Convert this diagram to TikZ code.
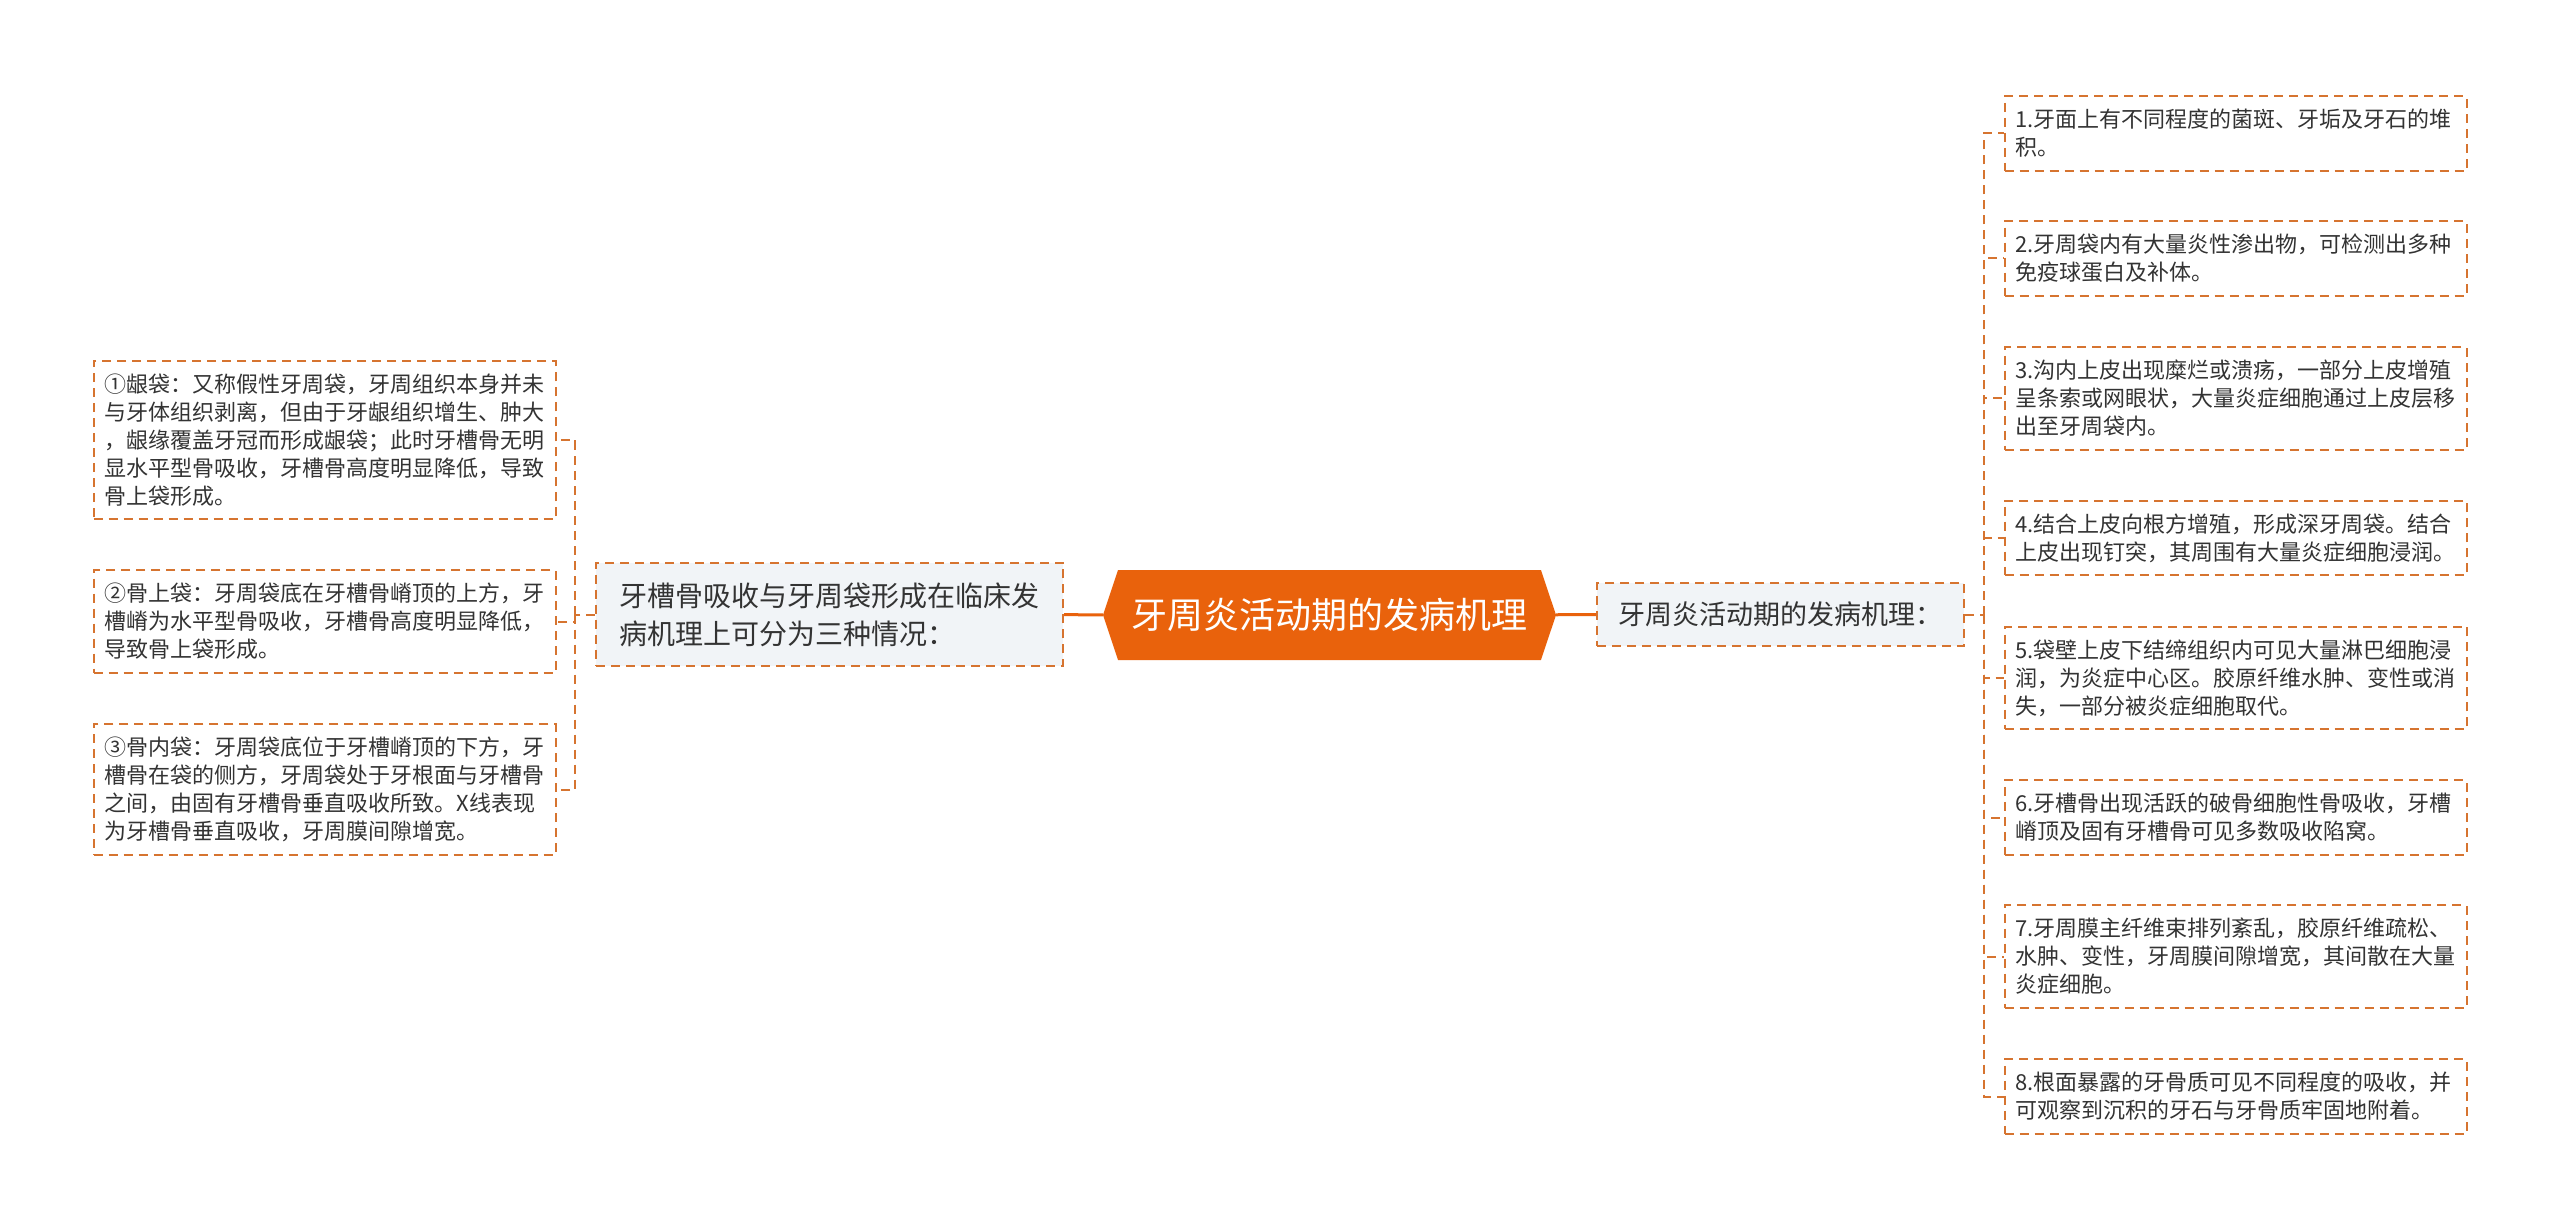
\documentclass[tikz,border=0pt]{standalone}
\usepackage{fontspec}
\setmainfont{Noto Sans CJK SC}
\usetikzlibrary{shapes.symbols}
\definecolor{lineorange}{RGB}{214,116,48}
\definecolor{rootorange}{RGB}{233,98,12}
\definecolor{midfill}{RGB}{241,244,247}
\definecolor{textgray}{RGB}{51,51,51}
\begin{document}
\begin{tikzpicture}[x=1pt,y=-1pt,
  leafbox/.style={draw=lineorange, line width=2pt, dash pattern=on 9pt off 6pt,
    fill=white, text=textgray, align=left, text width=440pt,
    inner xsep=11pt, inner ysep=13pt, font=\fontsize{22pt}{28pt}\selectfont},
  midbox/.style={draw=lineorange, line width=2pt, dash pattern=on 9pt off 6pt,
    fill=midfill, text=textgray, align=left},
  rootbox/.style={signal, signal to=west and east, signal pointer angle=143,
    fill=rootorange, text=white, minimum width=453pt, minimum height=90pt,
    inner xsep=0pt, font=\fontsize{36pt}{40pt}\selectfont},
  bus/.style={draw=lineorange, line width=2pt, dash pattern=on 9pt off 6pt},
  link/.style={draw=rootorange, line width=3pt}]
\fill[white] (0,0) rectangle (2560,1230);
\useasboundingbox (0,0) rectangle (2560,1230);

% root and the two branches
\node[rootbox] (root) at (1329.5,615) {牙周炎活动期的发病机理};
\node[midbox, text width=420pt, inner xsep=23.5pt, inner ysep=20pt,
  font=\fontsize{28pt}{38pt}\selectfont] (mL) at (829.5,614.5)
  {牙槽骨吸收与牙周袋形成在临床发\\病机理上可分为三种情况：};
\node[midbox, inner xsep=21.5pt, inner ysep=19pt,
  font=\fontsize{27pt}{32pt}\selectfont] (mR) at (1780.5,614.5)
  {牙周炎活动期的发病机理：};
\draw[link] (mL) -- (root);
\draw[link] (root) -- (mR);

% left leaves
\node[leafbox] (l1) at (324.5,440)
  {①龈袋：又称假性牙周袋，牙周组织本身并未\\与牙体组织剥离，但由于牙龈组织增生、肿大\\，龈缘覆盖牙冠而形成龈袋；此时牙槽骨无明\\显水平型骨吸收，牙槽骨高度明显降低，导致\\骨上袋形成。};
\node[leafbox] (l2) at (324.5,621.5)
  {②骨上袋：牙周袋底在牙槽骨嵴顶的上方，牙\\槽嵴为水平型骨吸收，牙槽骨高度明显降低，\\导致骨上袋形成。};
\node[leafbox] (l3) at (324.5,789.5)
  {③骨内袋：牙周袋底位于牙槽嵴顶的下方，牙\\槽骨在袋的侧方，牙周袋处于牙根面与牙槽骨\\之间，由固有牙槽骨垂直吸收所致。X线表现\\为牙槽骨垂直吸收，牙周膜间隙增宽。};
\coordinate (lbus) at (575,614.5);
\draw[bus] (mL.west) -- (lbus);
\foreach \i in {1,2,3}
    \draw[bus] (lbus) |- (l\i.east);

% right leaves
\foreach \i/\y/\txt in {
  1/133.5/{1.牙面上有不同程度的菌斑、牙垢及牙石的堆\\积。},
  2/258.5/{2.牙周袋内有大量炎性渗出物，可检测出多种\\免疫球蛋白及补体。},
  3/398.5/{3.沟内上皮出现糜烂或溃疡，一部分上皮增殖\\呈条索或网眼状，大量炎症细胞通过上皮层移\\出至牙周袋内。},
  4/538/{4.结合上皮向根方增殖，形成深牙周袋。结合\\上皮出现钉突，其周围有大量炎症细胞浸润。},
  5/678/{5.袋壁上皮下结缔组织内可见大量淋巴细胞浸\\润，为炎症中心区。胶原纤维水肿、变性或消\\失，一部分被炎症细胞取代。},
  6/817.5/{6.牙槽骨出现活跃的破骨细胞性骨吸收，牙槽\\嵴顶及固有牙槽骨可见多数吸收陷窝。},
  7/956.5/{7.牙周膜主纤维束排列紊乱，胶原纤维疏松、\\水肿、变性，牙周膜间隙增宽，其间散在大量\\炎症细胞。},
  8/1096.5/{8.根面暴露的牙骨质可见不同程度的吸收，并\\可观察到沉积的牙石与牙骨质牢固地附着。}}
    \node[leafbox] (r\i) at (2235.5,\y) {\txt};
\coordinate (rbus) at (1984,614.5);
\draw[bus] (mR.east) -- (rbus);
\foreach \i in {1,...,8}
    \draw[bus] (rbus) |- (r\i.west);
\end{tikzpicture}
\end{document}
